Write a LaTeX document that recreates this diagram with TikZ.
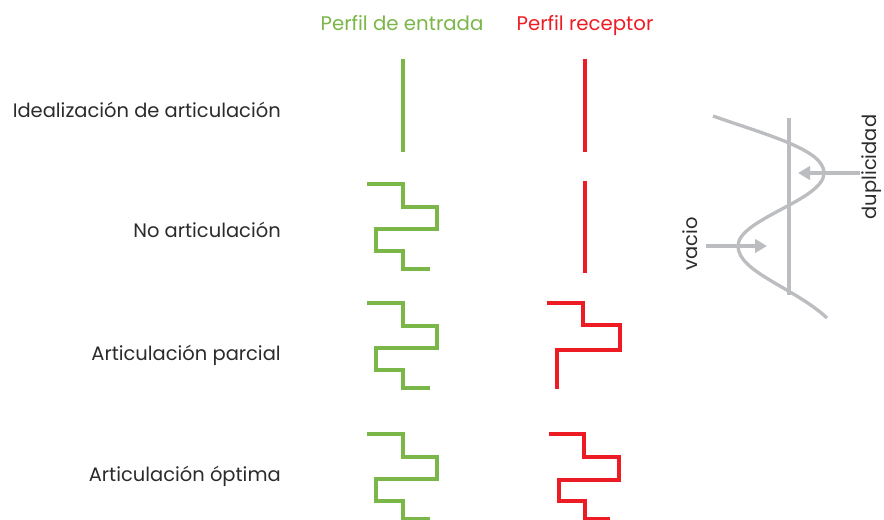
\documentclass[tikz,border=0pt]{standalone}
\usepackage{fontspec}
\setmainfont{Poppins}
\usetikzlibrary{arrows.meta}
\definecolor{vgreen}{HTML}{7AB648}
\definecolor{vred}{HTML}{ED1C24}
\definecolor{vgray}{HTML}{BCBDC0}
\definecolor{vtext}{HTML}{2B2B2B}
\tikzset{
  lbl/.style={anchor=base east, inner sep=0pt, text=vtext, font=\fontsize{14.6}{17}\selectfont},
  ttl/.style={anchor=base, inner sep=0pt, font=\fontsize{14.8}{17}\selectfont},
  gprof/.style={draw=vgreen, line width=3pt, line join=miter},
  rprof/.style={draw=vred, line width=2.9pt, line join=miter},
  gline/.style={draw=vgray, line width=2.5pt},
  garrow/.style={draw=vgray, line width=2.5pt, -{Triangle[length=9pt,width=10pt]}},
  side/.style={inner sep=0pt, text=vtext, font=\fontsize{14.6}{17}\selectfont, rotate=90}
}
\begin{document}
\begin{tikzpicture}[x=0.75pt,y=-0.75pt]
\useasboundingbox (0,0) rectangle (884,519);
\clip (0,0) rectangle (884,519);
% titles
\node[ttl, text=vgreen] (t1) at (402,30) {Perfil de entrada};
\node[ttl, text=vred] (t2) at (585,30) {Perfil receptor};
% row labels
\node[lbl] (l1) at (281,117) {Idealización de articulación};
\node[lbl] (l2) at (281,237) {No articulación};
\node[lbl] (l3) at (281,360) {Articulación parcial};
\node[lbl] (l4) at (281,481) {Articulación óptima};
% row 1
\draw[gprof] (403,59) -- (403,152);
\draw[rprof] (585,59) -- (585,152);
% row 2
\draw[gprof] (367,184) -- (403,184) -- (403,207) -- (437,207) -- (437,229) -- (376,229) -- (376,251) -- (403,251) -- (403,269) -- (430,269);
\draw[rprof] (585,181) -- (585,273);
% row 3
\draw[gprof] (367,303) -- (403,303) -- (403,326) -- (437,326) -- (437,348) -- (376,348) -- (376,370) -- (403,370) -- (403,388) -- (430,388);
\draw[rprof] (547,303) -- (583,303) -- (583,325) -- (620,325) -- (620,350) -- (557,350) -- (557,389);
% row 4
\draw[gprof] (367,434) -- (403,434) -- (403,457) -- (437,457) -- (437,479) -- (376,479) -- (376,501) -- (403,501) -- (403,519) -- (430,519);
\draw[rprof] (549,434) -- (584,434) -- (584,457) -- (619,457) -- (619,480) -- (559,480) -- (559,501) -- (585,501) -- (585,519) -- (610,519);
% gray sketch
\draw[gline] (789,118) -- (789,295);
\draw[gline] (713,116) .. controls (770,136) and (824,150) .. (824,173)
  .. controls (824,200) and (738,219) .. (738,246)
  .. controls (738,272) and (795,288) .. (827,318);
\coordinate (d0) at (860,173);
\coordinate (d1) at (798,173);
\coordinate (v0) at (706,246);
\coordinate (v1) at (767,246);
\draw[garrow] (d0) -- (d1);
\draw[garrow] (v0) -- (v1);
\node[side] (dup) at (872,167) {duplicidad};
\node[side] (vac) at (690,244) {vacio};
\end{tikzpicture}
\end{document}
